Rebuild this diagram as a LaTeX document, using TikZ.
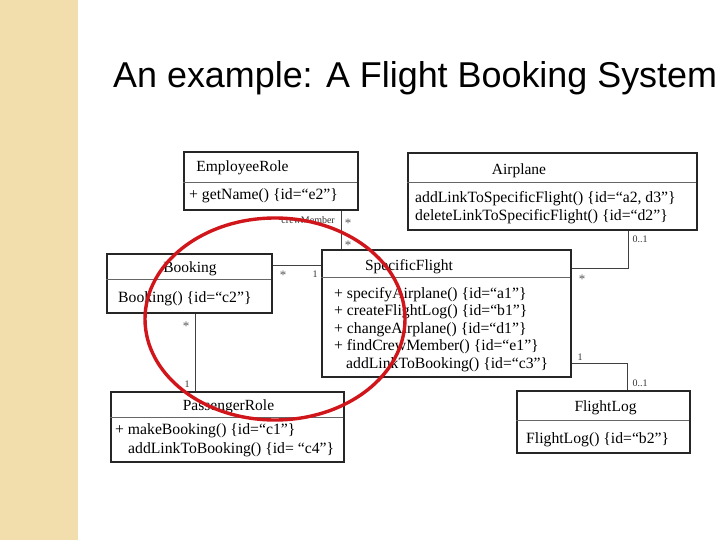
\documentclass[tikz,border=0pt]{standalone}
\usepackage{fontspec}
\setmainfont{Liberation Serif}
\newfontfamily\titlefont{Liberation Sans}
\definecolor{beige}{RGB}{242,222,172}
\definecolor{ringred}{RGB}{208,22,27}
\begin{document}
\begin{tikzpicture}[x=1pt,y=-1pt,
  cls/.style={draw=black!85, line width=1.4pt, inner sep=0pt},
  div/.style={draw=black!60, line width=1.3pt},
  txt/.style={font=\fontsize{15.7}{18}\selectfont, inner sep=0pt, anchor=base west},
  nm/.style={font=\fontsize{15.5}{18}\selectfont, inner sep=0pt, anchor=base},
  lbl/.style={font=\fontsize{10}{12}\selectfont, inner sep=0pt, anchor=base, text=black!80},
  star/.style={font=\fontsize{13}{14}\selectfont, inner sep=0pt, anchor=base, text=black!65},
  conn/.style={draw=black!75, line width=0.9pt}]
\useasboundingbox (0,0) rectangle (720,540);
\fill[white] (0,0) rectangle (720,540);
\fill[beige] (0,0) rectangle (78,540);
\node[anchor=base west, inner sep=0pt, font=\titlefont\fontsize{35.9}{40}\selectfont] (title) at (113,88) {An example: A Flight Booking System};

% class boxes
\node[cls, minimum width=174pt, minimum height=58pt] (emp) at (271,181) {};
\node[cls, minimum width=289pt, minimum height=77pt] (air) at (552.5,191.5) {};
\node[cls, minimum width=165pt, minimum height=59pt] (book) at (189.5,283.5) {};
\node[cls, minimum width=249pt, minimum height=127pt] (sf) at (446.5,313.5) {};
\node[cls, minimum width=233pt, minimum height=70pt] (pass) at (227.5,427) {};
\node[cls, minimum width=173pt, minimum height=62pt] (flog) at (603.5,422) {};

% dividers
\draw[div] (emp.north west) ++(0,31) -- ++(174,0);
\draw[div] (air.north west) ++(0,30) -- ++(289,0);
\draw[div] (book.north west) ++(0,26) -- ++(165,0);
\draw[div] (sf.north west) ++(0,28) -- ++(249,0);
\draw[div] (pass.north west) ++(0,26) -- ++(233,0);
\draw[div] (flog.north west) ++(0,30) -- ++(173,0);

% texts
\node[nm] (empn) at (242.5,172) {EmployeeRole};
\node[txt] (empm) at (189,200) {+ getName() \{id=“e2”\}};
\node[nm] (airn) at (519,175) {Airplane};
\node[txt] (airm1) at (415,203) {addLinkToSpecificFlight() \{id=“a2, d3”\}};
\node[txt] (airm2) at (415,221) {deleteLinkToSpecificFlight() \{id=“d2”\}};
\node[nm] (bookn) at (190,272) {Booking};
\node[txt] (bookm) at (118,302) {Booking() \{id=“c2”\}};
\node[nm] (sfn) at (409,270) {SpecificFlight};
\node[txt] (sfm1) at (334,298) {+ specifyAirplane() \{id=“a1”\}};
\node[txt] (sfm2) at (334,315.5) {+ createFlightLog() \{id=“b1”\}};
\node[txt] (sfm3) at (334,333) {+ changeAirplane() \{id=“d1”\}};
\node[txt] (sfm4) at (334,350.5) {+ findCrewMember() \{id=“e1”\}};
\node[txt] (sfm5) at (346,368) {addLinkToBooking() \{id=“c3”\}};
\node[nm] (passn) at (228.5,410) {PassengerRole};
\node[txt] (passm1) at (115,434) {+ makeBooking() \{id=“c1”\}};
\node[txt] (passm2) at (128,453) {addLinkToBooking() \{id= “c4”\}};
\node[nm] (flogn) at (605.5,411) {FlightLog};
\node[txt] (flogm) at (526,443) {FlightLog() \{id=“b2”\}};

% connectors
\coordinate (xcrew) at (341,0);
\draw[conn] (emp.south -| xcrew) -- (sf.north -| xcrew);
\coordinate (yb) at (0,265);
\draw[conn] (book.east |- yb) -- (sf.west |- yb);
\coordinate (xbp) at (195,0);
\draw[conn] (book.south -| xbp) -- (pass.north -| xbp);
\coordinate (xa) at (628,268);
\draw[conn] (air.south -| xa) |- (sf.east |- xa);
\coordinate (xf) at (627,363);
\draw[conn] (sf.east |- xf) -| (flog.north -| xf);

% multiplicities
\node[lbl, anchor=base east] (crew) at (335,224) {crewMember};
\node[star] (m1) at (348,227) {*};
\node[star] (m2) at (348,249) {*};
\node[star] (m3) at (283,279) {*};
\node[lbl] (m4) at (315,277) {1};
\node[star] (m5) at (186,330) {*};
\node[lbl] (m6) at (187,387) {1};
\node[lbl] (m7) at (640,243) {0..1};
\node[star] (m8) at (582,283) {*};
\node[lbl] (m9) at (580,360) {1};
\node[lbl] (m10) at (640,386) {0..1};

% red ring
\draw[ringred, line width=3.4pt] (275,319) ellipse [x radius=130, y radius=101];
\end{tikzpicture}
\end{document}
